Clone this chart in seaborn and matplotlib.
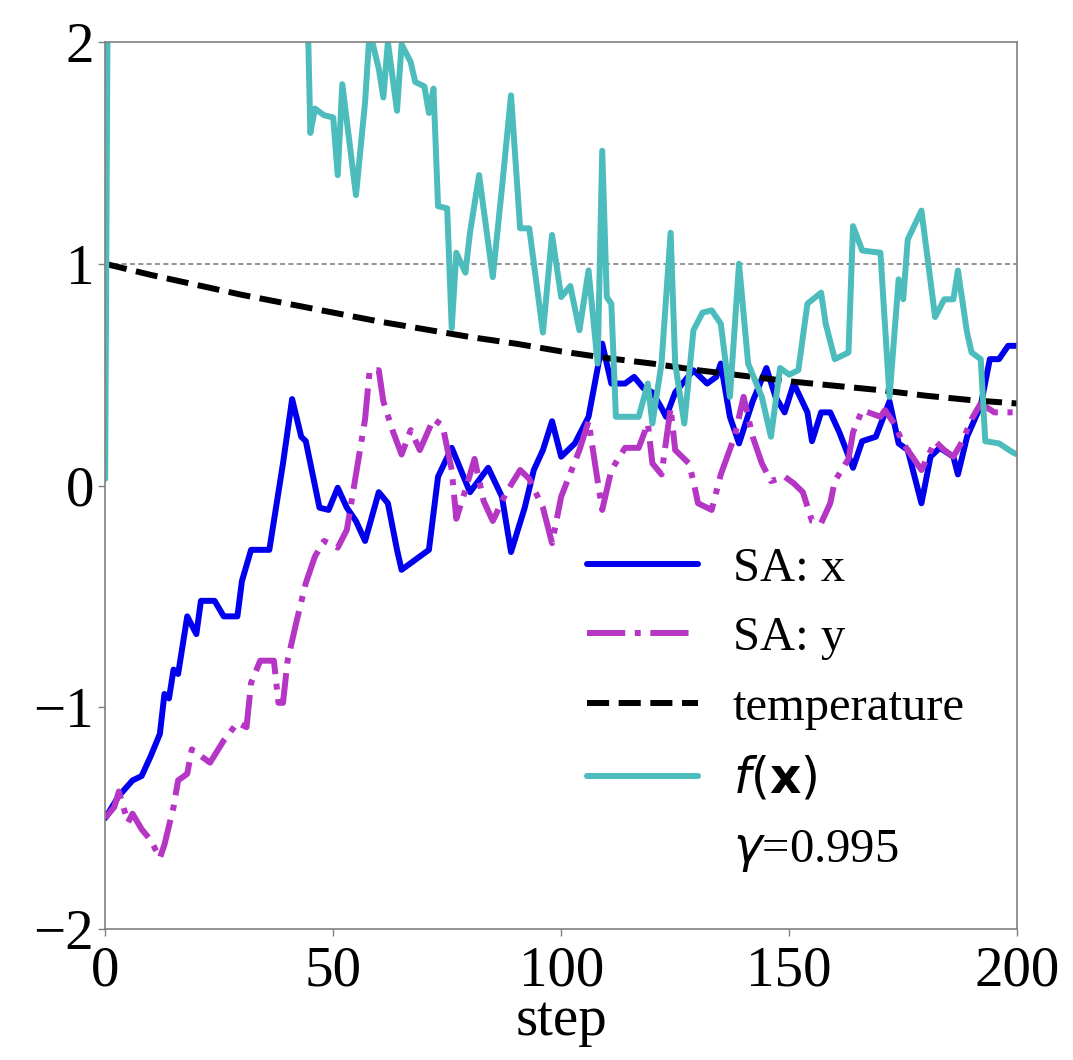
import numpy as np
import pandas as pd
import seaborn as sns
import matplotlib.pyplot as plt
from matplotlib.lines import Line2D

# values
x_steps = [0, 3, 6, 8, 10, 12, 13, 14, 15, 16, 18, 20, 21, 24, 26, 29, 30, 32, 36, 39,
           41, 43, 44, 47, 49, 51, 53, 55, 57, 60, 62, 64, 65, 67, 69, 71, 73, 76, 78, 80,
           84, 87, 89, 92, 94, 96, 98, 100, 103, 106, 109, 111, 114, 116, 118, 120, 122, 123, 125, 129,
           132, 134, 135, 137, 139, 142, 145, 147, 149, 151, 154, 155, 157, 159, 161, 164, 166, 169, 172, 174,
           176, 179, 181, 183, 186, 187, 189, 192, 194, 196, 198, 200]
x_vals = [-1.50, -1.40, -1.33, -1.31, -1.22, -1.12, -0.94, -0.96, -0.83, -0.85, -0.59, -0.67, -0.52, -0.52, -0.59, -0.59, -0.43, -0.29, -0.29, 0.10,
          0.39, 0.22, 0.20, -0.10, -0.11, -0.01, -0.10, -0.16, -0.25, -0.03, -0.08, -0.29, -0.38, -0.35, -0.32, -0.29, 0.04, 0.17, 0.07, -0.03,
          0.08, -0.05, -0.30, -0.10, 0.07, 0.16, 0.29, 0.13, 0.19, 0.31, 0.64, 0.46, 0.46, 0.49, 0.44, 0.42, 0.35, 0.31, 0.42, 0.52,
          0.46, 0.49, 0.55, 0.31, 0.19, 0.38, 0.53, 0.40, 0.33, 0.46, 0.33, 0.20, 0.33, 0.33, 0.24, 0.08, 0.20, 0.22, 0.38, 0.19,
          0.16, -0.08, 0.13, 0.17, 0.13, 0.05, 0.22, 0.36, 0.57, 0.57, 0.63, 0.63]

y_steps = [0, 2, 3, 5, 6, 8, 10, 12, 13, 15, 16, 18, 19, 21, 23, 26, 29, 31, 32, 34,
           37, 38, 39, 40, 42, 44, 46, 48, 51, 53, 55, 57, 58, 60, 61, 63, 65, 67, 69, 72,
           74, 76, 77, 79, 81, 83, 85, 88, 91, 93, 96, 98, 100, 104, 106, 108, 109, 111, 114, 117,
           119, 120, 122, 124, 125, 128, 129, 130, 133, 135, 138, 140, 142, 144, 146, 149, 151, 153, 155, 157,
           159, 160, 163, 164, 166, 170, 171, 173, 175, 177, 179, 182, 184, 186, 188, 190, 192, 195, 199]
y_vals = [-1.50, -1.45, -1.38, -1.52, -1.48, -1.55, -1.60, -1.68, -1.62, -1.45, -1.33, -1.30, -1.19, -1.22, -1.25, -1.15, -1.07, -1.09, -0.89, -0.79,
          -0.79, -0.98, -0.98, -0.79, -0.61, -0.44, -0.32, -0.25, -0.28, -0.20, 0.05, 0.30, 0.52, 0.52, 0.38, 0.25, 0.14, 0.25, 0.16, 0.30,
          0.27, 0.07, -0.15, -0.02, 0.12, -0.07, -0.16, -0.03, 0.07, 0.03, -0.10, -0.26, -0.05, 0.16, 0.29, 0.02, -0.11, 0.07, 0.17, 0.17,
          0.28, 0.10, 0.05, 0.35, 0.16, 0.10, 0.02, -0.08, -0.11, 0.05, 0.22, 0.40, 0.22, 0.10, 0.02, 0.04, 0.01, -0.03, -0.16, -0.17,
          -0.08, 0.02, 0.12, 0.24, 0.34, 0.31, 0.34, 0.28, 0.19, 0.13, 0.07, 0.20, 0.16, 0.13, 0.20, 0.30, 0.37, 0.33, 0.33]

temp_steps = [0, 10, 20, 30, 40, 50, 60, 70, 80, 90, 100, 110, 120, 130, 140, 150, 160, 170, 180, 190, 200]
temp_vals = [1.0, 0.95, 0.905, 0.86, 0.82, 0.78, 0.74, 0.705, 0.67, 0.64, 0.605, 0.575, 0.55, 0.52, 0.495, 0.47, 0.45, 0.43, 0.405, 0.385, 0.37]

f_steps = [0, 1, 44, 45, 46, 48, 50, 51, 52, 55, 57, 58, 60, 61, 62, 64, 65, 67, 68, 70,
           71, 72, 73, 75, 76, 77, 79, 80, 82, 85, 87, 89, 91, 93, 96, 98, 100, 102, 104, 106,
           108, 109, 110, 111, 112, 115, 117, 119, 120, 122, 124, 125, 127, 129, 131, 133, 135, 137, 139, 141,
           144, 146, 148, 150, 152, 154, 157, 158, 160, 163, 164, 166, 170, 172, 174, 175, 176, 179, 180, 182,
           184, 186, 187, 189, 190, 192, 193, 196, 199, 200]
f_vals = [0.03, 4.0, 2.5, 1.59, 1.70, 1.67, 1.66, 1.40, 1.81, 1.31, 1.73, 2.05, 1.88, 1.75, 2.00, 1.69, 1.99, 1.91, 1.82, 1.80,
          1.68, 1.79, 1.26, 1.25, 0.71, 1.05, 0.96, 1.14, 1.40, 0.94, 1.34, 1.76, 1.16, 1.16, 0.69, 1.13, 0.85, 0.90, 0.70, 0.97,
          0.55, 1.51, 0.85, 0.82, 0.31, 0.31, 0.31, 0.46, 0.28, 0.55, 1.14, 0.55, 0.28, 0.70, 0.78, 0.79, 0.73, 0.40, 1.00, 0.55,
          0.40, 0.22, 0.53, 0.50, 0.52, 0.82, 0.87, 0.73, 0.57, 0.60, 1.17, 1.06, 1.05, 0.40, 0.93, 0.84, 1.11, 1.24, 1.08, 0.76,
          0.84, 0.84, 0.97, 0.69, 0.60, 0.57, 0.20, 0.19, 0.15, 0.14]

sns.set_style("white")
plt.rcParams["font.family"] = ["Liberation Serif", "DejaVu Serif"]
plt.rcParams["mathtext.fontset"] = "dejavusans"
plt.rcParams["text.color"] = "black"
plt.rcParams["axes.labelcolor"] = "black"
plt.rcParams["xtick.color"] = "black"
plt.rcParams["ytick.color"] = "black"

fig = plt.figure(figsize=(10.73, 10.6), dpi=100)
ax = fig.add_axes([0.098, 0.1236, 0.850, 0.8367])

ax.axhline(1.0, color="gray", linewidth=1.2, linestyle=(0, (3, 2)), zorder=1)

lw = 4.3
sns.lineplot(x=x_steps, y=x_vals, ax=ax, color="#0000ee", linewidth=lw, label="SA: x")
sns.lineplot(x=y_steps, y=y_vals, ax=ax, color="#b535c5", linewidth=lw, linestyle="-.", label="SA: y")
sns.lineplot(x=temp_steps, y=temp_vals, ax=ax, color="black", linewidth=lw, linestyle="--", label="temperature")
sns.lineplot(x=f_steps, y=f_vals, ax=ax, color="#4cbcbc", linewidth=lw, label=r"$f(\mathbf{x})$")

ax.set_xlim(0, 200)
ax.set_ylim(-2, 2)
ax.set_xticks([0, 50, 100, 150, 200])
ax.set_yticks([-2, -1, 0, 1, 2])
ax.set_yticklabels(["\u22122", "\u22121", "0", "1", "2"])
ax.tick_params(labelsize=41, direction="out", length=5, width=1, colors="black",
               bottom=True, left=True)
ax.tick_params(axis="x", pad=7)
ax.tick_params(axis="y", pad=3)
ax.tick_params(color="gray")
ax.set_xlabel("step", fontsize=41, labelpad=-2)
ax.set_ylabel("")
for sp in ax.spines.values():
    sp.set_color("gray")
    sp.set_linewidth(1.2)

handles, labels = ax.get_legend_handles_labels()
handles.append(Line2D([], [], color="none"))
labels.append(r"$\gamma$=0.995")
ax.legend(handles, labels, loc="upper left", bbox_to_anchor=(0.48, 0.48), frameon=False,
          fontsize=35, handlelength=2.3, labelspacing=0.52, handletextpad=0.7)

plt.savefig("out.png", dpi=100)
